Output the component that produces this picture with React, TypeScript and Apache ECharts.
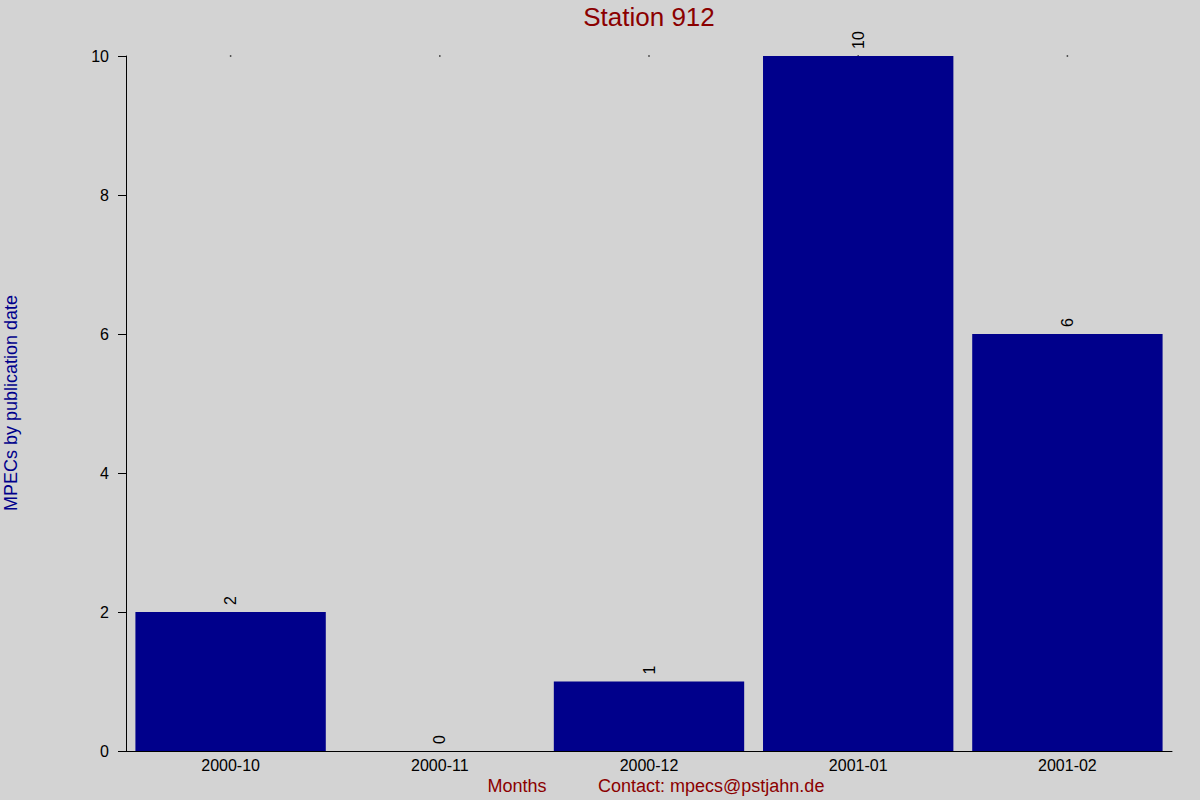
import * as echarts from 'echarts';
import { useEffect, useRef } from 'react';

const months = ['2000-10', '2000-11', '2000-12', '2001-01', '2001-02'];
const mpecCounts = [2, 0, 1, 10, 6];
const topMarks = [10, 10, 10, 10, 10];
const yTicks = [0, 2, 4, 6, 8, 10];

const FONT = '"Liberation Sans", Arial, sans-serif';

export default function App() {
  const chartRef = useRef<HTMLDivElement>(null);

  useEffect(() => {
    if (!chartRef.current) return;
    document.body.style.margin = '0';

    const chart = echarts.init(chartRef.current, null, { renderer: 'svg' });

    chart.setOption({
      animation: false,
      backgroundColor: '#d3d3d3',
      textStyle: { fontFamily: FONT },
      graphic: [
        {
          type: 'text',
          x: 649,
          y: 17,
          style: {
            text: 'Station 912',
            fill: '#8b0000',
            font: `26px ${FONT}`,
            textAlign: 'center',
            textVerticalAlign: 'middle',
          },
        },
        {
          type: 'text',
          x: 11,
          y: 403,
          rotation: Math.PI / 2,
          style: {
            text: 'MPECs by publication date',
            fill: '#00008b',
            font: `18px ${FONT}`,
            textAlign: 'center',
            textVerticalAlign: 'middle',
          },
        },
        {
          type: 'text',
          x: 517,
          y: 786,
          style: {
            text: 'Months',
            fill: '#8b0000',
            font: `18px ${FONT}`,
            textAlign: 'center',
            textVerticalAlign: 'middle',
          },
        },
        {
          type: 'text',
          x: 598,
          y: 786,
          style: {
            text: 'Contact: mpecs@pstjahn.de',
            fill: '#8b0000',
            font: `18px ${FONT}`,
            textAlign: 'left',
            textVerticalAlign: 'middle',
          },
        },
      ],
      grid: { left: 126, right: 28, top: 56, bottom: 49, containLabel: false },
      xAxis: {
        type: 'category',
        data: months,
        axisLine: { lineStyle: { color: '#000', width: 1 } },
        axisTick: { show: false },
        axisLabel: { color: '#000', fontSize: 16, margin: 6, fontFamily: FONT },
      },
      yAxis: {
        type: 'value',
        min: yTicks[0],
        max: yTicks[yTicks.length - 1],
        interval: 2,
        splitLine: { show: false },
        axisLine: { show: true, lineStyle: { color: '#000', width: 1 } },
        axisTick: { show: true, length: 8, lineStyle: { color: '#000' } },
        axisLabel: { color: '#000', fontSize: 16, margin: 17, fontFamily: FONT },
      },
      series: [
        {
          type: 'scatter',
          data: topMarks,
          symbol: 'rect',
          symbolSize: 1.5,
          z: 1,
          itemStyle: { color: '#000' },
          silent: true,
        },
        {
          type: 'bar',
          data: mpecCounts,
          barCategoryGap: '9%',
          z: 2,
          itemStyle: { color: '#00008b' },
          label: {
            show: true,
            position: 'top',
            rotate: 90,
            align: 'left',
            verticalAlign: 'middle',
            distance: 7,
            color: '#000',
            fontSize: 16,
            fontFamily: FONT,
          },
        },
      ],
    });

    const handleResize = () => chart.resize();
    window.addEventListener('resize', handleResize);

    return () => {
      window.removeEventListener('resize', handleResize);
      chart.dispose();
    };
  }, []);

  return <div ref={chartRef} style={{ width: '1200px', height: '800px' }} />;
}
